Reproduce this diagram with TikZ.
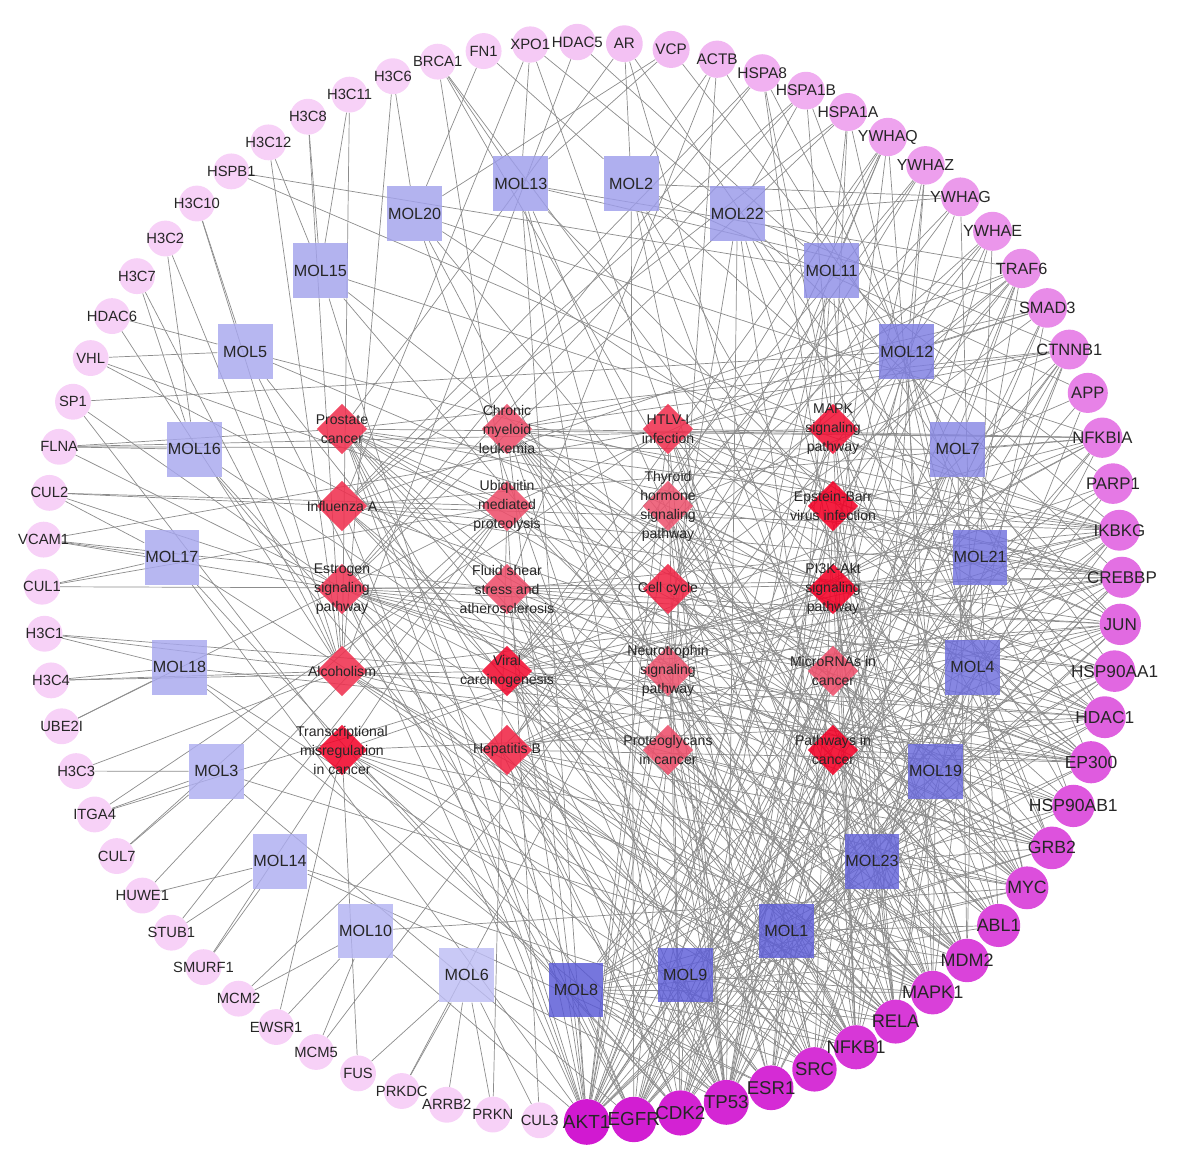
\documentclass[tikz,border=0pt]{standalone}
\usepackage{fontspec}
\setmainfont{Liberation Sans}
\usetikzlibrary{shapes.geometric}
\definecolor{genehub}{HTML}{CC00CC}
\definecolor{genelight}{HTML}{F6CCF6}
\definecolor{moldark}{HTML}{5858D6}
\definecolor{mollight}{HTML}{C2C2F6}
\definecolor{pathred}{HTML}{F20026}
\definecolor{pathpink}{HTML}{EA7A90}
\definecolor{linkgray}{HTML}{8C8C8C}
\newcommand{\genefont}[1]{\pgfmathsetmacro{\gfsize}{10.5+0.03*#1}\fontsize{\gfsize}{\gfsize}\selectfont}
\pgfdeclarelayer{bg}
\pgfsetlayers{bg,main}
\tikzset{
  gtext/.style={text=black!85, inner sep=0pt},
  gene/.style 2 args={circle, inner sep=0pt, minimum size={(25.5+0.07*#1)*1pt},
                      fill=genehub!#1!genelight, fill opacity=0.9,
                      label={[gtext, font=\genefont{#1}]center:#2}},
  mol/.style={rectangle, inner sep=0pt, minimum size=39pt, fill=moldark!#1!mollight,
              fill opacity=0.82, text opacity=1, text=black!85, font=\fontsize{11.5}{12}\selectfont},
  ptext/.style={font=\fontsize{10}{13.5}\selectfont, align=center, text=black!85, inner sep=0pt},
  pathway/.style 2 args={diamond, inner sep=0pt, minimum size=36pt, fill=pathred!#1!pathpink,
                         fill opacity=0.88, label={[ptext]center:#2}},
  link/.style={draw=linkgray, line width=0.5pt},
}
\begin{document}
\begin{tikzpicture}[x=0.025cm, y=0.025cm]
  \useasboundingbox (-582,-579) rectangle (599,582);

  % targets on the outer ring
  \node[gene={100}{AKT1}] (AKT1) at (-89.5:540) {};
  \node[gene={97}{EGFR}] (EGFR) at (-84.5:540) {};
  \node[gene={95}{CDK2}] (CDK2) at (-79.5:540) {};
  \node[gene={92}{TP53}] (TP53) at (-74.5:540) {};
  \node[gene={90}{ESR1}] (ESR1) at (-69.5:540) {};
  \node[gene={87}{SRC}] (SRC) at (-64.5:540) {};
  \node[gene={84}{NFKB1}] (NFKB1) at (-59.5:540) {};
  \node[gene={82}{RELA}] (RELA) at (-54.5:540) {};
  \node[gene={79}{MAPK1}] (MAPK1) at (-49.5:540) {};
  \node[gene={77}{MDM2}] (MDM2) at (-44.5:540) {};
  \node[gene={74}{ABL1}] (ABL1) at (-39.5:540) {};
  \node[gene={71}{MYC}] (MYC) at (-34.5:540) {};
  \node[gene={69}{GRB2}] (GRB2) at (-29.5:540) {};
  \node[gene={66}{HSP90AB1}] (HSP90AB1) at (-24.5:540) {};
  \node[gene={64}{EP300}] (EP300) at (-19.5:540) {};
  \node[gene={61}{HDAC1}] (HDAC1) at (-14.5:540) {};
  \node[gene={58}{HSP90AA1}] (HSP90AA1) at (-9.5:540) {};
  \node[gene={56}{JUN}] (JUN) at (-4.5:540) {};
  \node[gene={53}{CREBBP}] (CREBBP) at (0.5:540) {};
  \node[gene={51}{IKBKG}] (IKBKG) at (5.5:540) {};
  \node[gene={48}{PARP1}] (PARP1) at (10.5:540) {};
  \node[gene={45}{NFKBIA}] (NFKBIA) at (15.5:540) {};
  \node[gene={43}{APP}] (APP) at (20.5:540) {};
  \node[gene={40}{CTNNB1}] (CTNNB1) at (25.5:540) {};
  \node[gene={38}{SMAD3}] (SMAD3) at (30.5:540) {};
  \node[gene={35}{TRAF6}] (TRAF6) at (35.5:540) {};
  \node[gene={32}{YWHAE}] (YWHAE) at (40.5:540) {};
  \node[gene={30}{YWHAG}] (YWHAG) at (45.5:540) {};
  \node[gene={27}{YWHAZ}] (YWHAZ) at (50.5:540) {};
  \node[gene={25}{YWHAQ}] (YWHAQ) at (55.5:540) {};
  \node[gene={22}{HSPA1A}] (HSPA1A) at (60.5:540) {};
  \node[gene={19}{HSPA1B}] (HSPA1B) at (65.5:540) {};
  \node[gene={17}{HSPA8}] (HSPA8) at (70.5:540) {};
  \node[gene={14}{ACTB}] (ACTB) at (75.5:540) {};
  \node[gene={12}{VCP}] (VCP) at (80.5:540) {};
  \node[gene={9}{AR}] (AR) at (85.5:540) {};
  \node[gene={6}{HDAC5}] (HDAC5) at (90.5:540) {};
  \node[gene={4}{XPO1}] (XPO1) at (95.5:540) {};
  \node[gene={1}{FN1}] (FN1) at (100.5:540) {};
  \node[gene={0}{BRCA1}] (BRCA1) at (105.5:540) {};
  \node[gene={0}{H3C6}] (H3C6) at (110.5:540) {};
  \node[gene={0}{H3C11}] (H3C11) at (115.5:540) {};
  \node[gene={0}{H3C8}] (H3C8) at (120.5:540) {};
  \node[gene={0}{H3C12}] (H3C12) at (125.5:540) {};
  \node[gene={0}{HSPB1}] (HSPB1) at (130.5:540) {};
  \node[gene={0}{H3C10}] (H3C10) at (135.5:540) {};
  \node[gene={0}{H3C2}] (H3C2) at (140.5:540) {};
  \node[gene={0}{H3C7}] (H3C7) at (145.5:540) {};
  \node[gene={0}{HDAC6}] (HDAC6) at (150.5:540) {};
  \node[gene={0}{VHL}] (VHL) at (155.5:540) {};
  \node[gene={0}{SP1}] (SP1) at (160.5:540) {};
  \node[gene={0}{FLNA}] (FLNA) at (165.5:540) {};
  \node[gene={0}{CUL2}] (CUL2) at (170.5:540) {};
  \node[gene={0}{VCAM1}] (VCAM1) at (175.5:540) {};
  \node[gene={0}{CUL1}] (CUL1) at (180.5:540) {};
  \node[gene={0}{H3C1}] (H3C1) at (185.5:540) {};
  \node[gene={0}{H3C4}] (H3C4) at (190.5:540) {};
  \node[gene={0}{UBE2I}] (UBE2I) at (195.5:540) {};
  \node[gene={0}{H3C3}] (H3C3) at (200.5:540) {};
  \node[gene={0}{ITGA4}] (ITGA4) at (205.5:540) {};
  \node[gene={0}{CUL7}] (CUL7) at (210.5:540) {};
  \node[gene={0}{HUWE1}] (HUWE1) at (215.5:540) {};
  \node[gene={0}{STUB1}] (STUB1) at (220.5:540) {};
  \node[gene={0}{SMURF1}] (SMURF1) at (225.5:540) {};
  \node[gene={0}{MCM2}] (MCM2) at (230.5:540) {};
  \node[gene={0}{EWSR1}] (EWSR1) at (235.5:540) {};
  \node[gene={0}{MCM5}] (MCM5) at (240.5:540) {};
  \node[gene={0}{FUS}] (FUS) at (245.5:540) {};
  \node[gene={0}{PRKDC}] (PRKDC) at (250.5:540) {};
  \node[gene={0}{ARRB2}] (ARRB2) at (255.5:540) {};
  \node[gene={0}{PRKN}] (PRKN) at (260.5:540) {};
  \node[gene={0}{CUL3}] (CUL3) at (265.5:540) {};

  % compounds on the inner ring
  \begin{scope}[shift={(-6,-3)}]
    \node[mol=100] (MOL8) at (-90:405) {MOL8};
    \node[mol=95] (MOL9) at (-74.35:405) {MOL9};
    \node[mol=95] (MOL1) at (-58.7:405) {MOL1};
    \node[mol=90] (MOL23) at (-43.04:405) {MOL23};
    \node[mol=85] (MOL19) at (-27.39:405) {MOL19};
    \node[mol=80] (MOL4) at (-11.74:405) {MOL4};
    \node[mol=75] (MOL21) at (3.91:405) {MOL21};
    \node[mol=55] (MOL7) at (19.57:405) {MOL7};
    \node[mol=65] (MOL12) at (35.22:405) {MOL12};
    \node[mol=50] (MOL11) at (50.87:405) {MOL11};
    \node[mol=40] (MOL22) at (66.52:405) {MOL22};
    \node[mol=35] (MOL2) at (82.17:405) {MOL2};
    \node[mol=35] (MOL13) at (97.83:405) {MOL13};
    \node[mol=30] (MOL20) at (113.48:405) {MOL20};
    \node[mol=30] (MOL15) at (129.13:405) {MOL15};
    \node[mol=25] (MOL5) at (144.78:405) {MOL5};
    \node[mol=25] (MOL16) at (160.43:405) {MOL16};
    \node[mol=25] (MOL17) at (176.09:405) {MOL17};
    \node[mol=25] (MOL18) at (191.74:405) {MOL18};
    \node[mol=20] (MOL3) at (207.39:405) {MOL3};
    \node[mol=20] (MOL14) at (223.04:405) {MOL14};
    \node[mol=15] (MOL10) at (238.7:405) {MOL10};
    \node[mol=5] (MOL6) at (254.35:405) {MOL6};
  \end{scope}

  % pathways in the middle
  \node[pathway={60}{Prostate\\cancer}] (prostate) at (-240,153) {};
  \node[pathway={60}{Influenza A}] (influenza) at (-240,76) {};
  \node[pathway={55}{Estrogen\\signaling\\pathway}] (estrogen) at (-240,-7) {};
  \node[pathway={60}{Alcoholism}] (alcoholism) at (-240,-89) {};
  \node[pathway={95}{Transcriptional\\misregulation\\in cancer}] (misreg) at (-240,-168) {};
  \node[pathway={35}{Chronic\\myeloid\\leukemia}] (cml) at (-75,153) {};
  \node[pathway={35}{Ubiquitin\\mediated\\proteolysis}] (ubiquitin) at (-75,76) {};
  \node[pathway={35}{Fluid shear\\stress and\\atherosclerosis}] (shear) at (-75,-7) {};
  \node[pathway={90}{Viral\\carcinogenesis}] (viral) at (-75,-89) {};
  \node[pathway={70}{Hepatitis B}] (hepb) at (-75,-168) {};
  \node[pathway={60}{HTLV-I\\infection}] (htlv) at (86,153) {};
  \node[pathway={30}{Thyroid\\hormone\\signaling\\pathway}] (thyroid) at (86,76) {};
  \node[pathway={70}{Cell cycle}] (cellcycle) at (86,-7) {};
  \node[pathway={30}{Neurotrophin\\signaling\\pathway}] (neuro) at (86,-89) {};
  \node[pathway={35}{Proteoglycans\\in cancer}] (proteo) at (86,-168) {};
  \node[pathway={85}{MAPK\\signaling\\pathway}] (mapk) at (251,153) {};
  \node[pathway={100}{Epstein-Barr\\virus infection}] (ebv) at (251,76) {};
  \node[pathway={100}{PI3K-Akt\\signaling\\pathway}] (pi3k) at (251,-7) {};
  \node[pathway={35}{MicroRNAs in\\cancer}] (mirna) at (251,-89) {};
  \node[pathway={100}{Pathways in\\cancer}] (pcancer) at (251,-168) {};

  \begin{pgfonlayer}{bg}
    % pathway -- target
    \foreach \g in {AKT1,EGFR,CDK2,TP53,MDM2,MAPK1,RELA,NFKB1,GRB2,HSP90AB1,HSP90AA1,CREBBP,EP300,IKBKG,NFKBIA,CTNNB1,AR,FLNA}
      \draw[link] (prostate) -- (\g);
    \foreach \g in {AKT1,MAPK1,RELA,NFKB1,JUN,NFKBIA,IKBKG,CREBBP,EP300,TRAF6,XPO1,HSPA1A,HSPA1B,HSPA8,CUL2}
      \draw[link] (influenza) -- (\g);
    \foreach \g in {AKT1,EGFR,ESR1,SRC,MAPK1,GRB2,HSP90AB1,HSP90AA1,JUN,CREBBP,EP300,HSPA8,HSPA1A,HSPA1B,SP1}
      \draw[link] (estrogen) -- (\g);
    \foreach \g in {MAPK1,NFKB1,RELA,CREBBP,EP300,HDAC1,GRB2,HDAC5,H3C1,H3C2,H3C3,H3C4,H3C6,H3C7,H3C8,H3C10,H3C11,H3C12,HDAC6}
      \draw[link] (alcoholism) -- (\g);
    \foreach \g in {TP53,MDM2,MYC,RELA,NFKB1,HDAC1,EWSR1,FUS,SP1,CDK2,PARP1}
      \draw[link] (misreg) -- (\g);
    \foreach \g in {AKT1,TP53,MDM2,ABL1,MAPK1,MYC,RELA,NFKB1,NFKBIA,IKBKG,GRB2,HDAC1,SMAD3,CTNNB1}
      \draw[link] (cml) -- (\g);
    \foreach \g in {MDM2,TRAF6,BRCA1,VHL,CUL1,CUL2,CUL3,CUL7,HUWE1,STUB1,SMURF1,UBE2I,PRKN}
      \draw[link] (ubiquitin) -- (\g);
    \foreach \g in {AKT1,SRC,NFKB1,RELA,JUN,TP53,HSP90AA1,HSP90AB1,ACTB,VCAM1,IKBKG,MAPK1}
      \draw[link] (shear) -- (\g);
    \foreach \g in {TP53,MDM2,CDK2,SRC,NFKB1,RELA,CREBBP,EP300,HDAC1,JUN,YWHAE,YWHAG,YWHAZ,YWHAQ,TRAF6,NFKBIA,IKBKG,H3C1,H3C4}
      \draw[link] (viral) -- (\g);
    \foreach \g in {AKT1,TP53,CDK2,SRC,NFKB1,RELA,MAPK1,MYC,CREBBP,EP300,JUN,IKBKG,NFKBIA,YWHAQ,YWHAZ,GRB2}
      \draw[link] (hepb) -- (\g);
    \foreach \g in {AKT1,TP53,CDK2,NFKB1,RELA,MYC,CREBBP,EP300,JUN,IKBKG,NFKBIA,SMAD3,XPO1,CTNNB1,HDAC1,VCAM1,ITGA4,MAPK1}
      \draw[link] (htlv) -- (\g);
    \foreach \g in {AKT1,ESR1,SRC,TP53,MDM2,MAPK1,MYC,CREBBP,EP300,HDAC1,CTNNB1}
      \draw[link] (thyroid) -- (\g);
    \foreach \g in {CDK2,TP53,MDM2,ABL1,MYC,SMAD3,CREBBP,EP300,HDAC1,YWHAE,YWHAG,YWHAZ,YWHAQ,PRKDC,MCM2,MCM5,CUL1}
      \draw[link] (cellcycle) -- (\g);
    \foreach \g in {AKT1,TP53,MAPK1,RELA,NFKB1,NFKBIA,IKBKG,JUN,TRAF6,GRB2,SRC,ABL1,YWHAE,YWHAQ}
      \draw[link] (neuro) -- (\g);
    \foreach \g in {AKT1,EGFR,TP53,MDM2,SRC,MAPK1,MYC,GRB2,ESR1,CTNNB1,FLNA,ACTB}
      \draw[link] (proteo) -- (\g);
    \foreach \g in {AKT1,EGFR,TP53,MAPK1,RELA,NFKB1,MYC,GRB2,JUN,IKBKG,TRAF6,HSPA1A,HSPA1B,HSPA8,HSPB1,FLNA}
      \draw[link] (mapk) -- (\g);
    \foreach \g in {AKT1,TP53,MDM2,CDK2,NFKB1,RELA,JUN,NFKBIA,IKBKG,TRAF6,HDAC1,CREBBP,EP300,SRC}
      \draw[link] (ebv) -- (\g);
    \foreach \g in {AKT1,EGFR,TP53,MDM2,CDK2,MAPK1,RELA,NFKB1,MYC,GRB2,HSP90AA1,HSP90AB1,IKBKG,YWHAE,YWHAG,YWHAZ,YWHAQ,ITGA4,BRCA1}
      \draw[link] (pi3k) -- (\g);
    \foreach \g in {EGFR,TP53,MDM2,CDK2,ABL1,MYC,CREBBP,EP300,HDAC1,CTNNB1,VCAM1,ESR1}
      \draw[link] (mirna) -- (\g);
    \foreach \g in {AKT1,EGFR,TP53,MDM2,CDK2,ABL1,MYC,MAPK1,NFKB1,RELA,CREBBP,EP300,JUN,HDAC1,HSP90AA1,HSP90AB1,GRB2,IKBKG,NFKBIA,TRAF6,SMAD3,CTNNB1,AR,ESR1,VHL,CUL2,BRCA1}
      \draw[link] (pcancer) -- (\g);
    % compound -- target
    \foreach \g in {AKT1,EGFR,CDK2,TP53,ESR1,SRC,NFKB1,RELA,MAPK1,MDM2,MYC,GRB2,HSP90AA1,JUN,PARP1,APP,HDAC1,CTNNB1}
      \draw[link] (MOL8) -- (\g);
    \foreach \g in {AKT1,EGFR,CDK2,TP53,ESR1,SRC,RELA,MAPK1,ABL1,MYC,HSP90AB1,EP300,HDAC1,CREBBP,IKBKG,NFKBIA,TRAF6}
      \draw[link] (MOL9) -- (\g);
    \foreach \g in {AKT1,EGFR,CDK2,TP53,ESR1,SRC,NFKB1,MAPK1,MDM2,ABL1,GRB2,HSP90AA1,JUN,CREBBP,PARP1,SMAD3,YWHAE}
      \draw[link] (MOL1) -- (\g);
    \foreach \g in {AKT1,EGFR,TP53,SRC,NFKB1,RELA,MDM2,MYC,GRB2,HSP90AB1,EP300,JUN,IKBKG,CTNNB1,YWHAZ,HSPA8}
      \draw[link] (MOL23) -- (\g);
    \foreach \g in {AKT1,EGFR,CDK2,ESR1,SRC,RELA,MAPK1,ABL1,HSP90AA1,HDAC1,CREBBP,NFKBIA,APP,TRAF6,YWHAQ}
      \draw[link] (MOL19) -- (\g);
    \foreach \g in {AKT1,CDK2,TP53,ESR1,NFKB1,MAPK1,MDM2,MYC,GRB2,EP300,JUN,IKBKG,SMAD3,YWHAG,HSPA1A}
      \draw[link] (MOL4) -- (\g);
    \foreach \g in {AKT1,EGFR,TP53,SRC,RELA,ABL1,HSP90AB1,HDAC1,CREBBP,PARP1,CTNNB1,YWHAE,HSPA1B,AR}
      \draw[link] (MOL21) -- (\g);
    \foreach \g in {AKT1,EGFR,CDK2,ESR1,NFKB1,MDM2,HSP90AA1,JUN,NFKBIA,APP,TRAF6,ACTB,FLNA}
      \draw[link] (MOL7) -- (\g);
    \foreach \g in {AKT1,TP53,SRC,MAPK1,MYC,EP300,IKBKG,SMAD3,YWHAZ,HSPA8,VCP,SP1}
      \draw[link] (MOL12) -- (\g);
    \foreach \g in {EGFR,CDK2,ESR1,RELA,ABL1,GRB2,HDAC1,PARP1,YWHAQ,HSPA1A,HDAC5,HSPB1}
      \draw[link] (MOL11) -- (\g);
    \foreach \g in {AKT1,TP53,NFKB1,MDM2,HSP90AB1,CREBBP,CTNNB1,YWHAG,HSPA1B,XPO1}
      \draw[link] (MOL22) -- (\g);
    \foreach \g in {EGFR,SRC,MAPK1,MYC,JUN,APP,YWHAG,ACTB,AR,FN1}
      \draw[link] (MOL2) -- (\g);
    \foreach \g in {AKT1,CDK2,ESR1,RELA,EP300,SMAD3,TRAF6,VCP,BRCA1,XPO1}
      \draw[link] (MOL13) -- (\g);
    \foreach \g in {TP53,NFKB1,ABL1,HSP90AA1,NFKBIA,VCP,H3C6,FN1}
      \draw[link] (MOL20) -- (\g);
    \foreach \g in {AKT1,MAPK1,GRB2,IKBKG,H3C11,H3C8,H3C12}
      \draw[link] (MOL15) -- (\g);
    \foreach \g in {EGFR,SRC,HDAC1,CREBBP,VHL,H3C10,HDAC6}
      \draw[link] (MOL5) -- (\g);
    \foreach \g in {TP53,ESR1,MDM2,FLNA,H3C2,H3C7}
      \draw[link] (MOL16) -- (\g);
    \foreach \g in {AKT1,CDK2,RELA,VCAM1,CUL1,CUL2}
      \draw[link] (MOL17) -- (\g);
    \foreach \g in {TP53,SRC,H3C1,H3C4,UBE2I,EP300}
      \draw[link] (MOL18) -- (\g);
    \foreach \g in {EGFR,MAPK1,H3C3,ITGA4,CUL7}
      \draw[link] (MOL3) -- (\g);
    \foreach \g in {ESR1,NFKB1,HUWE1,STUB1,SMURF1}
      \draw[link] (MOL14) -- (\g);
    \foreach \g in {AKT1,MYC,MCM2,EWSR1,MCM5}
      \draw[link] (MOL10) -- (\g);
    \foreach \g in {TP53,FUS,PRKDC,ARRB2,PRKN,CUL3}
      \draw[link] (MOL6) -- (\g);
  \end{pgfonlayer}
\end{tikzpicture}
\end{document}
